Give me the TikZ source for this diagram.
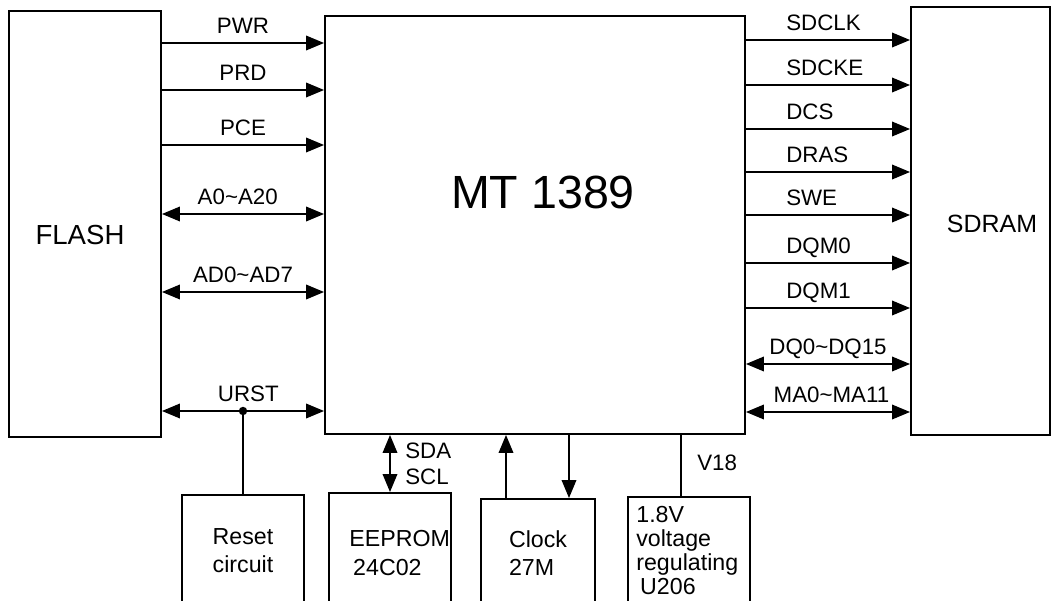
\documentclass[tikz,border=0pt]{standalone}
\usepackage{fontspec}
\setmainfont{Liberation Sans}
\usetikzlibrary{arrows.meta}

\begin{document}
\begin{tikzpicture}[
    x=0.02cm, y=-0.02cm,
    blk/.style={draw, line width=1.1pt, align=center, inner sep=0pt},
    sig/.style={line width=1.1pt},
    uni/.style={-{Triangle[length=0.36cm,width=0.29cm]}},
    bi/.style={{Triangle[length=0.36cm,width=0.29cm]}-{Triangle[length=0.36cm,width=0.29cm]}},
    lbl/.style={font=\fontsize{12.7}{14}\selectfont, inner sep=0pt, text depth=0pt},
    txt/.style={font=\fontsize{13.2}{13.6}\selectfont, align=left, inner sep=0pt}
]
    \useasboundingbox (0,0) rectangle (1055,601);

    % --- Main blocks ---
    \node[blk, minimum width=3.04cm, minimum height=8.52cm] (flash) at (85,224) {};
    \node[font=\fontsize{15.7}{18}\selectfont] (flashname) at (80,235) {FLASH};
    \node[blk, minimum width=8.4cm, minimum height=8.36cm] (mt) at (535,225) {};
    \node[font=\fontsize{26.5}{30}\selectfont] (mtname) at (543,192) {MT 1389};
    \node[blk, minimum width=2.78cm, minimum height=8.56cm] (sdram) at (980.5,221) {};
    \node[font=\fontsize{14.2}{17}\selectfont] (sdramname) at (992,224) {SDRAM};

    % --- Bottom blocks ---
    \node[blk, minimum width=2.44cm, minimum height=2.22cm, font=\fontsize{13.2}{15.9}\selectfont]
        (reset) at (243,550.5) {Reset\\circuit};
    \node[blk, minimum width=2.44cm, minimum height=2.26cm] (eeprom) at (390,549.5) {};
    \node[blk, minimum width=2.28cm, minimum height=2.16cm, font=\fontsize{13.2}{15.9}\selectfont,
          align=left] (clock) at (538,553) {Clock\\27M};
    \node[blk, minimum width=2.44cm, minimum height=2.18cm] (volt) at (689,551.5) {};
    \node[txt, anchor=west] (eeptxt) at (349,553) {EEPROM\\[3pt]\,24C02};
    \node[txt, anchor=north west] (volttxt) at (636,506) {1.8V\\voltage\\regulating\\\,U206};

    % --- FLASH side ---
    \foreach \y/\name in {43/PWR, 90/PRD, 145/PCE}
        \draw[sig, uni] (flash.east |- 0,\y) -- node[lbl, above=5pt] {\name} (mt.west |- 0,\y);
    \draw[sig, bi] (flash.east |- 0,214) -- node[lbl, above=5pt, xshift=-3pt] {A0\textasciitilde A20} (mt.west |- 0,214);
    \draw[sig, bi] (flash.east |- 0,292) -- node[lbl, above=5pt] {AD0\textasciitilde AD7} (mt.west |- 0,292);
    \coordinate (jn) at (243,411);
    \draw[sig, bi] (flash.east |- jn) -- node[lbl, above=5pt, xshift=3pt] {URST} (mt.west |- jn);
    \draw[sig] (reset.north) -- (jn);
    \fill (jn) circle (2.4pt);

    % --- SDRAM side ---
    \foreach \y/\name in {40/SDCLK, 85/SDCKE, 129/DCS, 172/DRAS, 215/SWE, 263/DQM0, 308/DQM1}
        \draw[sig, uni] (mt.east |- 0,\y) -- node[lbl, anchor=south west, pos=0.24, yshift=5pt] {\name} (sdram.west |- 0,\y);
    \draw[sig, bi] (mt.east |- 0,364) -- node[lbl, above=5pt] {DQ0\textasciitilde DQ15} (sdram.west |- 0,364);
    \draw[sig, bi] (mt.east |- 0,412) -- node[lbl, above=5pt, xshift=2pt] {MA0\textasciitilde MA11} (sdram.west |- 0,412);

    % --- Bottom links ---
    \draw[sig, bi] (eeprom.north) -- (eeprom.north |- mt.south);
    \node[lbl, align=left, anchor=west] (i2c) at (405,464) {SDA\\[1pt]SCL};
    \draw[sig, uni] (clock.north -| 506,0) -- (mt.south -| 506,0);
    \draw[sig, uni] (mt.south -| 569,0) -- (clock.north -| 569,0);
    \draw[sig] (mt.south -| 681,0) -- (volt.north -| 681,0);
    \node[lbl, anchor=west] (v18) at (697,463) {V18};
\end{tikzpicture}
\end{document}
